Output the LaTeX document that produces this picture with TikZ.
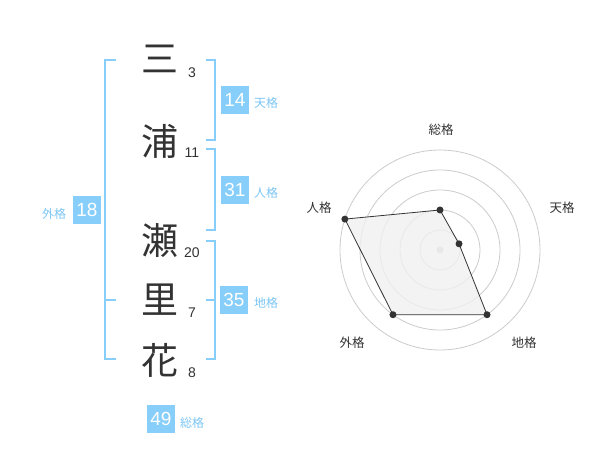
\documentclass[tikz,border=0pt]{standalone}
\usepackage{fontspec}
\setmainfont{Liberation Sans}
\newfontfamily\jp{Noto Sans CJK JP}
\definecolor{sky}{RGB}{135,206,250}
\definecolor{skytext}{RGB}{125,198,245}
\definecolor{ink}{RGB}{51,51,51}
\begin{document}
\begin{tikzpicture}[x=1pt,y=-1pt,
 kanji/.style={font=\jp\fontsize{37}{37}\selectfont, text=ink, inner sep=0pt},
 strokes/.style={font=\fontsize{14}{14}\selectfont, text=ink, inner sep=0pt},
 valbox/.style={fill=sky, text=white, minimum width=28pt, minimum height=28pt, inner sep=0pt, font=\fontsize{19}{19}\selectfont},
 kaku/.style={font=\jp\fontsize{12}{12}\selectfont, text=skytext, inner sep=0pt},
 brk/.style={draw=sky, line width=2pt},
 ring/.style={draw=black!20, line width=0.8pt},
 axislabel/.style={font=\jp\fontsize{12.5}{12.5}\selectfont, text=ink, inner sep=0pt},
 dot/.style={circle, fill=ink, inner sep=0pt, minimum size=7pt},
]
\useasboundingbox[fill=white] (0,0) rectangle (600,470);

% name characters
\node[kanji] (k1) at (160,59) {三};
\node[kanji] (k2) at (160,141) {浦};
\node[kanji] (k3) at (160,241) {瀬};
\node[kanji] (k4) at (160,300) {里};
\node[kanji] (k5) at (160,360) {花};

\node[strokes] (s1) at (192,73) {3};
\node[strokes] (s2) at (192,153) {11};
\node[strokes] (s3) at (192,253) {20};
\node[strokes] (s4) at (192,313) {7};
\node[strokes] (s5) at (192,373) {8};

% brackets
\draw[brk] (116,60) -- (105,60) -- (105,359) -- (116,359);
\draw[brk] (105,300) -- (116,300);
\draw[brk] (206,60) -- (215,60) -- (215,140) -- (206,140);
\draw[brk] (206,149) -- (215,149) -- (215,230) -- (206,230);
\draw[brk] (206,241) -- (215,241) -- (215,359) -- (206,359);
\draw[brk] (206,300) -- (215,300);

% values
\node[valbox] (v14) at (235,100) {14};
\node[kaku] (l14) at (266,103) {天格};
\node[valbox] (v31) at (235,190) {31};
\node[kaku] (l31) at (266,193) {人格};
\node[valbox] (v35) at (234,300) {35};
\node[kaku] (l35) at (266,303) {地格};
\node[valbox] (v18) at (87,210) {18};
\node[kaku] (l18) at (54,214) {外格};
\node[valbox] (v49) at (161,419) {49};
\node[kaku] (l49) at (192,423) {総格};

% radar chart
\begin{scope}[shift={(440,250)}]
  \foreach \r in {20,40,60,80,100} \draw[ring] (0,0) circle (\r pt);
  \fill[black!20] (0,0) circle (3.5pt);
  \coordinate (pso) at (90:40pt);
  \coordinate (pte) at (18:20pt);
  \coordinate (pti) at (-54:80pt);
  \coordinate (pga) at (234:80pt);
  \coordinate (pji) at (162:100pt);
  \filldraw[fill=black!6, fill opacity=0.8, draw=ink, line width=0.8pt]
    (pso) -- (pte) -- (pti) -- (pga) -- (pji) -- cycle;
  \foreach \p in {pso,pte,pti,pga,pji} \node[dot] at (\p) {};
\end{scope}
\node[axislabel] (aso) at (441,130) {総格};
\node[axislabel] (ate) at (562,208) {天格};
\node[axislabel] (aji) at (319,208) {人格};
\node[axislabel] (ati) at (524,343) {地格};
\node[axislabel] (aga) at (352,343) {外格};
\end{tikzpicture}
\end{document}
